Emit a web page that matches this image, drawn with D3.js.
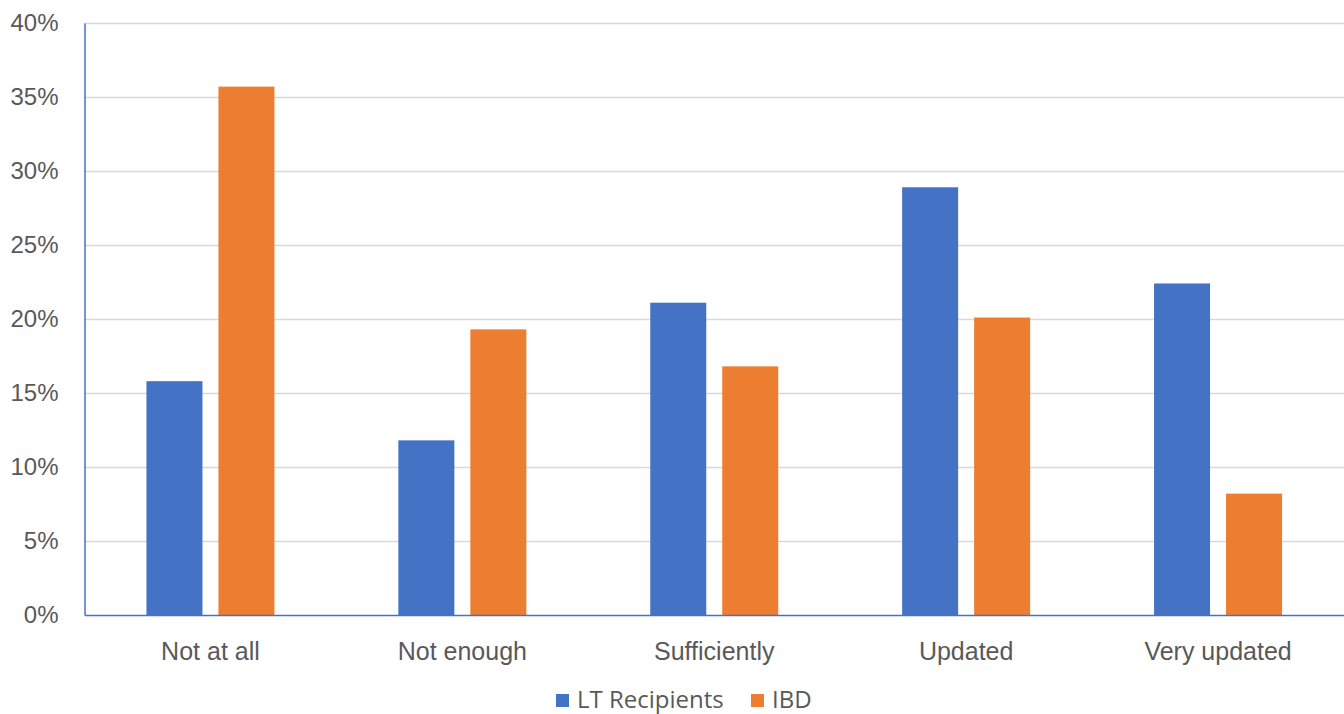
<!DOCTYPE html>
<html>
<head>
<meta charset="utf-8">
<script src="https://cdn.jsdelivr.net/npm/d3@7"></script>
<style>
  body { margin: 0; background: #fff; }
  svg { display: block; font-family: "Open Sans", "Noto Sans", sans-serif; }
</style>
</head>
<body>
<svg id="chart" width="1344" height="714"></svg>
<script>
// data
const categories = ["Not at all", "Not enough", "Sufficiently", "Updated", "Very updated"];
const seriesNames = ["LT Recipients", "IBD"];
const ltRecipients = [15.8, 11.8, 21.1, 28.9, 22.4];
const ibd = [35.7, 19.3, 16.8, 20.1, 8.2];
const yTicks = [0, 5, 10, 15, 20, 25, 30, 35, 40];
const colors = ["#4472c4", "#ed7d31"];

const seriesValues = [ltRecipients, ibd];

const svg = d3.select("#chart");
const plotLeft = 84.5, plotRight = 1344, plotTop = 23, plotBottom = 615;

// x schaal voor de groepen
const x0 = d3.scaleBand().domain(categories).range([plotLeft, plotRight]);

// x schaal binnen een groep
const groupW = 128;
const x1 = d3
  .scaleBand()
  .domain(seriesNames)
  .range([(x0.bandwidth() - groupW) / 2, (x0.bandwidth() + groupW) / 2])
  .paddingInner(0.222);

// y-as
const y = d3.scaleLinear().domain([0, 40]).range([plotBottom, plotTop]);

// gridlijnen
svg
  .append("g")
  .selectAll("line")
  .data(yTicks.filter((d) => d > 0))
  .join("line")
  .attr("x1", plotLeft)
  .attr("x2", plotRight)
  .attr("y1", (d) => Math.round(y(d)) + 0.5)
  .attr("y2", (d) => Math.round(y(d)) + 0.5)
  .attr("stroke", "#d9d9d9")
  .attr("stroke-width", 1.3);

// bars
const groups = svg
  .append("g")
  .selectAll("g")
  .data(categories)
  .join("g")
  .attr("transform", (d) => "translate(" + x0(d) + ",0)");

groups
  .selectAll("rect")
  .data((d, i) => seriesNames.map((s, j) => ({ s: s, v: seriesValues[j][i], j: j })))
  .join("rect")
  .attr("x", (d) => x1(d.s))
  .attr("width", x1.bandwidth())
  .attr("y", (d) => y(d.v))
  .attr("height", (d) => y(0) - y(d.v))
  .attr("fill", (d) => colors[d.j]);

// y-as labels
const yAxis = svg
  .append("g")
  .attr("transform", "translate(" + plotLeft + ",0)")
  .call(
    d3.axisLeft(y)
      .tickValues(yTicks)
      .tickSize(0)
      .tickPadding(26)
      .tickFormat((d) => d + "%")
  );
yAxis.select(".domain").attr("stroke", "#4472c4").attr("stroke-width", 1.5);
yAxis.selectAll("text").attr("font-size", 24).attr("fill", "#595959");

// x-as
const xAxis = svg
  .append("g")
  .attr("transform", "translate(0," + plotBottom + ")")
  .call(d3.axisBottom(x0).tickSize(0).tickPadding(27));
xAxis.select(".domain").attr("stroke", "#4472c4").attr("stroke-width", 1.5);
xAxis.selectAll("text").attr("font-size", 25).attr("fill", "#595959");

// legenda
const legendX = [556, 751];
const legend = svg
  .append("g")
  .selectAll("g")
  .data(seriesNames)
  .join("g")
  .attr("transform", (d, i) => "translate(" + legendX[i] + ",694)");

legend
  .append("rect")
  .attr("width", 13)
  .attr("height", 13)
  .attr("fill", (d, i) => colors[i]);

legend
  .append("text")
  .attr("x", 21)
  .attr("y", 14)
  .attr("font-size", 24)
  .attr("fill", "#595959")
  .text((d) => d);
</script>
</body>
</html>
